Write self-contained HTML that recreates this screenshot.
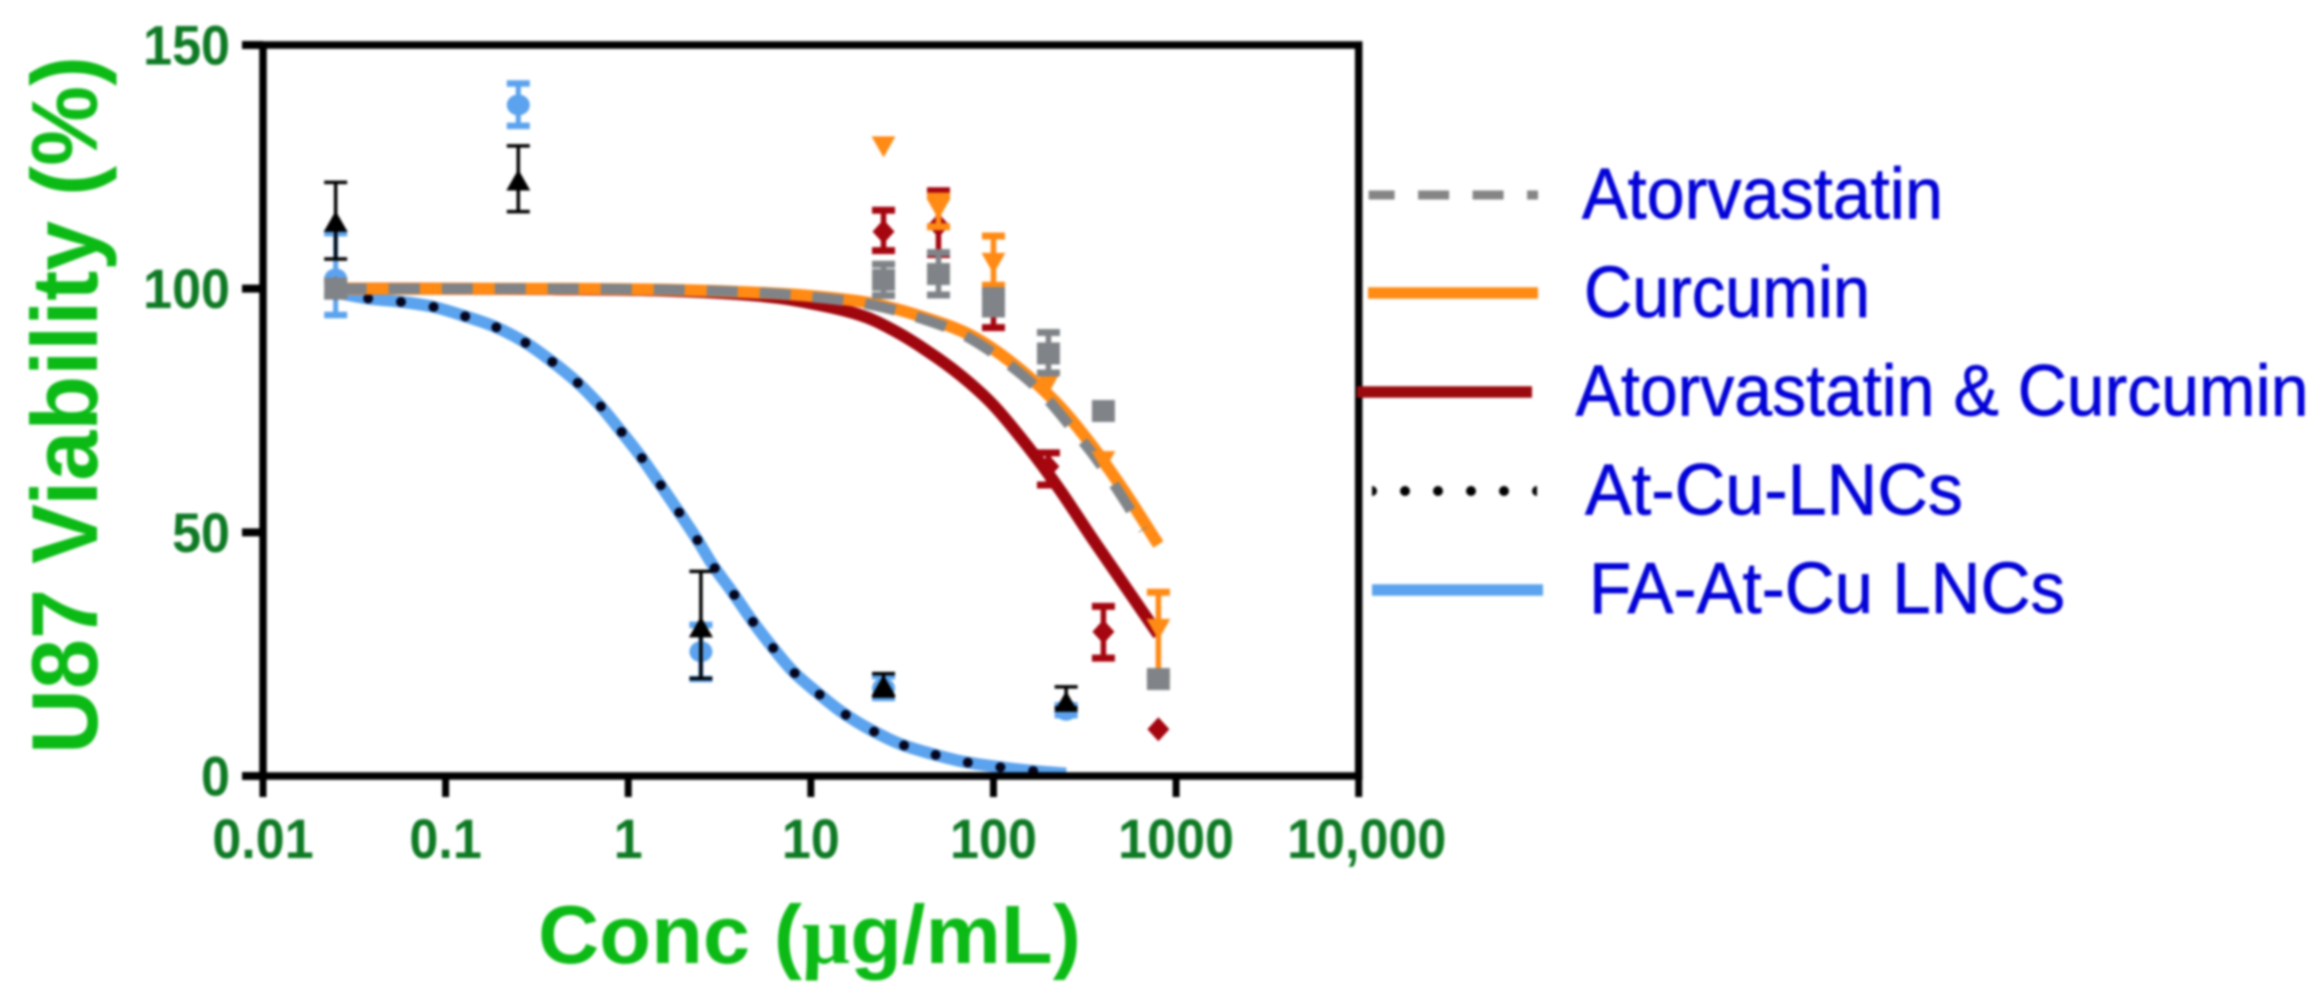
<!DOCTYPE html>
<html>
<head>
<meta charset="utf-8">
<style>
html,body{margin:0;padding:0;background:#fff;width:2324px;height:999px;overflow:hidden}
svg{display:block;filter:blur(1.2px)}
text{font-family:"Liberation Sans",sans-serif}
</style>
</head>
<body>
<svg id="chart" width="2324" height="999" viewBox="0 0 2324 999" xmlns="http://www.w3.org/2000/svg">
  <defs>
    <clipPath id="legend-dot-clip"><rect x="1372" y="480" width="165" height="22"/></clipPath>
  </defs>
  <rect width="2324" height="999" fill="#ffffff"/>
  <g id="curves"></g>
  <g id="markers"></g>
  <g id="axes"></g>
  <text transform="translate(97,754) rotate(-90)" font-size="94" font-weight="bold" fill="#0cba16" textLength="698" lengthAdjust="spacingAndGlyphs">U87 Viability (%)</text>
  <text x="538" y="963" font-size="83" font-weight="bold" fill="#0cba16" textLength="543" lengthAdjust="spacingAndGlyphs">Conc (<tspan style="font-family:'Liberation Serif',serif">μ</tspan>g/mL)</text>
  <g>
    <g>
      <line x1="1368.6" y1="195" x2="1538" y2="195" stroke="#858585" stroke-width="9" stroke-dasharray="31 23.5" stroke-dashoffset="5"/>
      <text x="1582" y="218.6" font-size="72" fill="#0404d8" stroke="#0404d8" stroke-width="0.7" textLength="361" lengthAdjust="spacingAndGlyphs">Atorvastatin</text>
    </g>
    <g>
      <line x1="1368" y1="293" x2="1538" y2="293" stroke="#ff8a14" stroke-width="11.5"/>
      <text x="1584" y="317" font-size="72" fill="#0404d8" stroke="#0404d8" stroke-width="0.7" textLength="286" lengthAdjust="spacingAndGlyphs">Curcumin</text>
    </g>
    <g>
      <line x1="1357" y1="392" x2="1532" y2="392" stroke="#9b0a0e" stroke-width="11.5"/>
      <text x="1575.6" y="415.7" font-size="72" fill="#0404d8" stroke="#0404d8" stroke-width="0.7" textLength="733" lengthAdjust="spacingAndGlyphs">Atorvastatin &amp; Curcumin</text>
    </g>
    <g>
      <line clip-path="url(#legend-dot-clip)" x1="1372" y1="491" x2="1541" y2="491" stroke="#000000" stroke-width="10" stroke-linecap="round" stroke-dasharray="0 33"/>
      <text x="1585" y="514.5" font-size="72" fill="#0404d8" stroke="#0404d8" stroke-width="0.7" textLength="378" lengthAdjust="spacingAndGlyphs">At-Cu-LNCs</text>
    </g>
    <g>
      <line x1="1372" y1="590" x2="1543" y2="590" stroke="#5ba3ee" stroke-width="11.5"/>
      <text x="1589" y="612.8" font-size="72" fill="#0404d8" stroke="#0404d8" stroke-width="0.7" textLength="476" lengthAdjust="spacingAndGlyphs">FA-At-Cu LNCs</text>
    </g>
  </g>
</svg>
<script>
// Axis tick data
const xTickValues = [0.01, 0.1, 1, 10, 100, 1000, 10000];
const xTickLabels = ["0.01", "0.1", "1", "10", "100", "1000", "10,000"];
const yTickValues = [0, 50, 100, 150];
const yTickLabels = ["0", "50", "100", "150"];

// Fitted curves (log10 concentration, viability %)
const lncCurveLogConc = [-1.602,-1.429,-1.247,-1.071,-0.898,-0.730,-0.571,-0.423,-0.283,-0.157,-0.045,0.066,0.170,0.270,0.373,0.466,0.575,0.672,0.784,0.904,1.039,1.178,1.332,1.494,1.667,1.841,2.016,2.198,2.398];
const lncCurveViability = [99.2,98.0,97.3,96.3,94.4,92.2,89.1,85.2,80.9,76.1,71.0,65.7,60.1,54.6,48.8,43.1,37.5,32.2,26.7,21.4,17.0,12.9,9.4,6.5,4.5,2.9,1.9,1.1,0.5];
const faLncCurveLogConc = [-1.602,-1.429,-1.247,-1.071,-0.898,-0.730,-0.571,-0.423,-0.283,-0.157,-0.045,0.066,0.170,0.270,0.373,0.466,0.575,0.672,0.784,0.904,1.039,1.178,1.332,1.494,1.667,1.841,2.016,2.198,2.398];
const faLncCurveViability = [99.2,98.0,97.3,96.3,94.4,92.2,89.1,85.2,80.9,76.1,71.0,65.7,60.1,54.6,48.8,43.1,37.5,32.2,26.7,21.4,17.0,12.9,9.4,6.5,4.5,2.9,1.9,1.1,0.5];
const comboCurveLogConc = [-1.602,-1,-0.4,0.2,0.7,1.0,1.269,1.451,1.634,1.817,1.999,2.182,2.364,2.547,2.729,2.903];
const comboCurveViability = [100,100,99.9,99.6,98.6,97,94.6,91.5,87.3,82.3,76.1,67.9,58.7,48.4,38.5,29];
const curcuminCurveLogConc = [-1.602,-1,-0.4,0.2,0.7,1.0,1.315,1.579,1.872,2.118,2.346,2.529,2.711,2.903];
const curcuminCurveViability = [100,100,100,99.8,99.2,98.5,97.1,94.6,90.5,84.3,76.5,68.3,58.7,47.5];
const atorvaCurveLogConc = [-1.602,-1,-0.4,0.2,0.7,1.0,1.315,1.579,1.872,2.2,2.437,2.601,2.82];
const atorvaCurveViability = [100,100,100,99.8,99.2,98.3,96.8,94.2,89.8,80.9,71,63.1,50.5];

// Measured points: concentration, mean, upward error, downward error
const faConc = [0.025, 0.25, 2.5, 25, 250];
const faMean = [102, 137.7, 25.5, 18, 13.5];
const faErrUp = [9.4, 4.4, 5.5, 2.5, 1];
const faErrDown = [7.4, 4.3, 5.6, 2, 1];

const lncConc = [0.025, 0.25, 2.5, 25, 250];
const lncMean = [113.5, 122, 30.3, 18.3, 15];
const lncErrUp = [8.3, 7.3, 11.7, 2.7, 3.3];
const lncErrDown = [7.4, 6.2, 10.3, 1.9, 1];

const comboConc = [0.025, 25, 50, 100, 200, 400, 800];
const comboMean = [100, 111.7, 113, 96, 63.5, 29.6, 9.6];
const comboErrUp = [0, 4.4, 7.1, 3, 2.8, 5.2, 0];
const comboErrDown = [0, 3.9, 6, 4, 3.8, 5.4, 0];

const curcuminConc = [0.025, 25, 50, 100, 200, 400, 800];
const curcuminMean = [100, 129.2, 116.5, 105.3, 80.8, 64.6, 30.2];
const curcuminErrUp = [0, 0, 2.5, 5.5, 0, 0, 7.5];
const curcuminErrDown = [0, 0, 3.8, 4.6, 0, 0, 9.7];

const atorvaConc = [0.025, 25, 50, 100, 200, 400, 800];
const atorvaMean = [100, 101.8, 103, 97.2, 86.7, 74.9, 19.9];
const atorvaErrUp = [1.5, 3.2, 4.4, 2.4, 4.3, 0, 0];
const atorvaErrDown = [1.5, 3.2, 4.3, 2.4, 4, 0, 0];

const NS = "http://www.w3.org/2000/svg";
const plotLeft = 263, plotRight = 1358.7, plotBottom = 776, plotTop = 45;
function xFromLog(l) { return plotLeft + (l + 2) / 6 * (plotRight - plotLeft); }
function xScale(c) { return xFromLog(Math.log10(c)); }
function yScale(v) { return plotBottom - v / 150 * (plotBottom - plotTop); }

function make(tag, attrs, parent) {
  const el = document.createElementNS(NS, tag);
  for (const k in attrs) el.setAttribute(k, attrs[k]);
  parent.appendChild(el);
  return el;
}

function smoothPath(logs, vals) {
  const p = logs.map((l, i) => [xFromLog(l), yScale(vals[i])]);
  let d = "M" + p[0][0].toFixed(1) + " " + p[0][1].toFixed(1);
  for (let i = 0; i < p.length - 1; i++) {
    const a = p[Math.max(i - 1, 0)], b = p[i], c = p[i + 1], e = p[Math.min(i + 2, p.length - 1)];
    d += "C" + (b[0] + (c[0] - a[0]) / 6).toFixed(1) + " " + (b[1] + (c[1] - a[1]) / 6).toFixed(1) + " " +
         (c[0] - (e[0] - b[0]) / 6).toFixed(1) + " " + (c[1] - (e[1] - b[1]) / 6).toFixed(1) + " " +
         c[0].toFixed(1) + " " + c[1].toFixed(1);
  }
  return d;
}

const curvesG = document.getElementById("curves");
function drawCurve(name, logs, vals, style) {
  const path = make("path", Object.assign({ d: smoothPath(logs, vals), fill: "none" }, style), curvesG);
  
  
}
drawCurve("curve-fa-at-cu-lncs", faLncCurveLogConc, faLncCurveViability, { stroke: "#5ba3ee", "stroke-width": 12 });
drawCurve("curve-at-cu-lncs", lncCurveLogConc, lncCurveViability, { stroke: "#05051e", "stroke-width": 10, "stroke-linecap": "round", "stroke-dasharray": "0 33" });
drawCurve("curve-atorvastatin-curcumin", comboCurveLogConc, comboCurveViability, { stroke: "#a0060e", "stroke-width": 12 });
drawCurve("curve-curcumin", curcuminCurveLogConc, curcuminCurveViability, { stroke: "#ff8a14", "stroke-width": 12 });
drawCurve("curve-atorvastatin", atorvaCurveLogConc, atorvaCurveViability, { stroke: "#808488", "stroke-width": 10.5, "stroke-dasharray": "31 22" });

const markersG = document.getElementById("markers");
function drawMarker(shape, cx, cy, color, g) {
  let el;
  if (shape === "circle") {
    el = make("ellipse", { cx: cx, cy: cy, rx: 11.5, ry: 10.5, fill: color }, g);
  } else if (shape === "square") {
    el = make("rect", { x: cx - 11.5, y: cy - 11, width: 23, height: 22, fill: color }, g);
  } else if (shape === "diamond") {
    el = make("polygon", { points: [[cx, cy - 12], [cx + 11, cy], [cx, cy + 12], [cx - 11, cy]].join(" "), fill: color }, g);
  } else if (shape === "up") {
    el = make("polygon", { points: [[cx, cy - 12], [cx + 12, cy + 9], [cx - 12, cy + 9]].join(" "), fill: color }, g);
  } else {
    el = make("polygon", { points: [[cx - 12, cy - 10], [cx + 12, cy - 10], [cx, cy + 11]].join(" "), fill: color }, g);
  }
  return el;
}
function drawPoints(name, conc, mean, up, down, shape, color, stemW, capH) {
  const group = make("g", {}, markersG);
  
  
  conc.forEach(function (c, i) {
    const cx = xScale(c), cy = yScale(mean[i]);
    if (up[i] > 0 || down[i] > 0) {
      const top = yScale(mean[i] + up[i]), bottom = yScale(mean[i] - down[i]);
      const stem = make("line", { x1: cx, y1: top, x2: cx, y2: bottom, stroke: color, "stroke-width": stemW }, group);
      
      
      const caps = make("path", {
        d: "M" + (cx - 11.5) + " " + top + "H" + (cx + 11.5) + "M" + (cx - 11.5) + " " + bottom + "H" + (cx + 11.5),
        fill: "none", stroke: color, "stroke-width": capH
      }, group);
      
      
    }
    const m = drawMarker(shape, cx, cy, color, group);
    
    
  });
}
drawPoints("fa-at-cu-lncs", faConc, faMean, faErrUp, faErrDown, "circle", "#5ba3ee", 5, 6.5);
drawPoints("at-cu-lncs", lncConc, lncMean, lncErrUp, lncErrDown, "up", "#000000", 3.5, 3.5);
drawPoints("atorvastatin-curcumin", comboConc, comboMean, comboErrUp, comboErrDown, "diamond", "#a5060f", 5.5, 7);
drawPoints("curcumin", curcuminConc, curcuminMean, curcuminErrUp, curcuminErrDown, "down", "#ff8a14", 5.5, 7);
drawPoints("atorvastatin", atorvaConc, atorvaMean, atorvaErrUp, atorvaErrDown, "square", "#808488", 5.5, 7);

const axesG = document.getElementById("axes");
const frame = make("path", {
  d: "M" + plotLeft + " " + plotTop + "H" + plotRight + "V" + plotBottom + "H" + plotLeft + "Z",
  fill: "none", stroke: "#000000", "stroke-width": 7.5
}, axesG);



xTickValues.forEach(function (v, i) {
  const x = xScale(v);
  const tick = make("line", { x1: x, y1: plotBottom, x2: x, y2: 797, stroke: "#000000", "stroke-width": 7 }, axesG);
  
  
  const label = make("text", { transform: "translate(" + (i === 6 ? x + 8 : x) + ",858) scale(0.93,1)", "text-anchor": "middle", "font-size": 56, "font-weight": "bold", fill: "#0e7a24" }, axesG);
  label.textContent = xTickLabels[i];
  
  
});
yTickValues.forEach(function (v, i) {
  const y = yScale(v);
  const tick = make("line", { x1: 242, y1: y, x2: plotLeft, y2: y, stroke: "#000000", "stroke-width": 8 }, axesG);
  
  
  const label = make("text", { transform: "translate(230," + (y + 19.5) + ") scale(0.93,1)", "text-anchor": "end", "font-size": 56, "font-weight": "bold", fill: "#0e7a24" }, axesG);
  label.textContent = yTickLabels[i];
  
  
});
</script>
</body>
</html>
